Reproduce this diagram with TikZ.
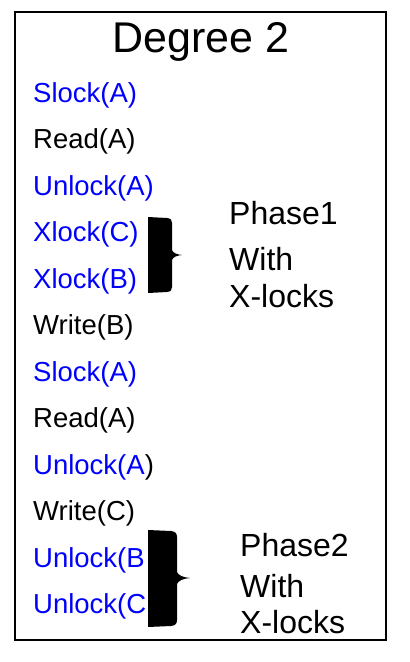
\documentclass[tikz,border=0pt]{standalone}
\usepackage{fontspec}
\setmainfont{Liberation Sans}
\begin{document}
\begin{tikzpicture}[x=1pt,y=-1pt,
  op/.style={anchor=base west,inner sep=0pt,font=\fontsize{27.5}{30}\selectfont},
  lock/.style={op,text=blue},
  note/.style={anchor=base west,inner sep=0pt,font=\fontsize{32}{36}\selectfont},
  brace/.style={fill=black,draw=none}]
\useasboundingbox (0,0) rectangle (410,662);
\fill[white] (0,0) rectangle (410,662);
% outer frame
\draw[line width=1.2pt] (15,12) rectangle (386,640);
% title
\node[anchor=base,inner sep=0pt,font=\fontsize{43}{46}\selectfont] (title) at (201,52) {Degree 2};
% schedule of operations
\node[lock] (s1)  at (33,102) {Slock(A)};
\node[op]   (s2)  at (33,148.5) {Read(A)};
\node[lock] (s3)  at (33,195) {Unlock(A)};
\node[lock] (s4)  at (33,241.5) {Xlock(C)};
\node[lock] (s5)  at (33,288) {Xlock(B)};
\node[op]   (s6)  at (33,334.5) {Write(B)};
\node[lock] (s7)  at (33,381) {Slock(A)};
\node[op]   (s8)  at (33,427.5) {Read(A)};
\node[op]   (s9)  at (33,474) {\textcolor{blue}{Unlock(A})};
\node[op]   (s10) at (33,520.5) {Write(C)};
\node[lock] (s11) at (33,567) {Unlock(B};
\node[lock] (s12) at (33,613.5) {Unlock(C};
% phase one brace
\fill[brace] (148,217) -- (167,218) .. controls (171,218.5) and (172,220) .. (172,223)
  -- (172,250) .. controls (173,253) and (177,254.5) .. (182,255)
  .. controls (177,255.5) and (173,257) .. (172,260)
  -- (172,287) .. controls (172,290) and (171,291.5) .. (167,292) -- (148,293) -- cycle;
% phase two brace
\fill[brace] (148,530) -- (171,531) .. controls (175,531.5) and (177,533) .. (177,537)
  -- (177,572) .. controls (178,575) and (183,577.5) .. (190,578)
  .. controls (183,578.5) and (178,581) .. (177,584)
  -- (177,620) .. controls (177,624) and (175,625.5) .. (171,626) -- (148,627) -- cycle;
% phase labels
\node[note] (p1a) at (229,224) {Phase1};
\node[note] (p1b) at (229,270) {With};
\node[note] (p1c) at (229,307) {X-locks};
\node[note] (p2a) at (240,556) {Phase2};
\node[note] (p2b) at (240,597) {With};
\node[note] (p2c) at (240,633) {X-locks};
\end{tikzpicture}
\end{document}
